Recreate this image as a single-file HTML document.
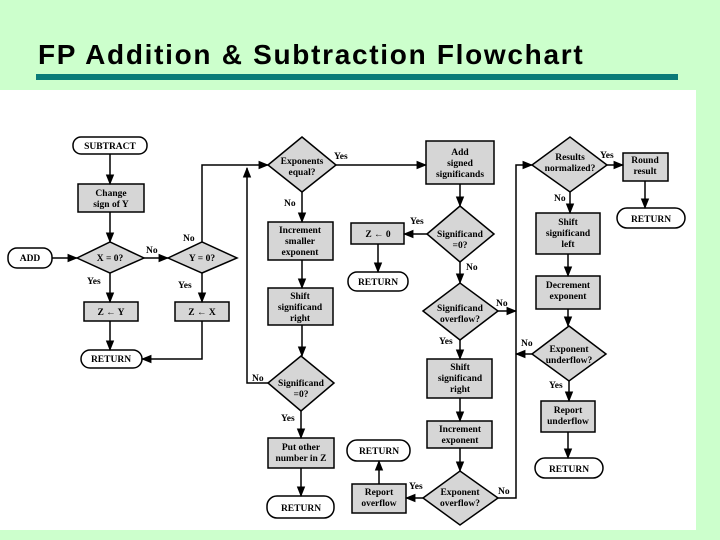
<!DOCTYPE html>
<html><head><meta charset="utf-8"><style>
html,body{margin:0;padding:0;width:720px;height:540px;overflow:hidden;background:#ccffcc}
.t{position:absolute;left:38px;top:39px;font:bold 28px "Liberation Sans",sans-serif;color:#000;letter-spacing:1.7px;white-space:nowrap}
</style></head><body>
<div class="t">FP Addition &amp; Subtraction Flowchart</div>
<div style="position:absolute;left:36px;top:74px;width:642px;height:6px;background:#0a7b78"></div>
<svg style="position:absolute;left:0;top:0" width="720" height="540" xmlns="http://www.w3.org/2000/svg">
<defs><marker id="a" viewBox="0 0 10 10" refX="9" refY="5" markerWidth="7" markerHeight="7" orient="auto"><path d="M0,1 L10,5 L0,9 z" fill="#000"/></marker></defs>
<rect x="0" y="90" width="696" height="440" fill="#fff"/>
<g fill="#d6d6d6" stroke="#000" stroke-width="1.5">
<rect x="78" y="184" width="66" height="28"/>
<rect x="84" y="302" width="54" height="19"/>
<rect x="175" y="302" width="54" height="19"/>
<rect x="268" y="222" width="65" height="38"/>
<rect x="268" y="288" width="65" height="37"/>
<rect x="268" y="438" width="66" height="30"/>
<rect x="426" y="141" width="68" height="43"/>
<rect x="351" y="223" width="53" height="21"/>
<rect x="427" y="359" width="65" height="39"/>
<rect x="427" y="421" width="65" height="27"/>
<rect x="352" y="484" width="54" height="29"/>
<rect x="623" y="153" width="45" height="28"/>
<rect x="536" y="213" width="64" height="41"/>
<rect x="536" y="276" width="64" height="33"/>
<rect x="541" y="401" width="54" height="31"/>
<polygon points="77,258 110,242 144,258 110,273"/>
<polygon points="168,258 202,242 237,258 202,273"/>
<polygon points="268,165 302,137 336,165 302,192"/>
<polygon points="268,383 301,356 334,383 301,411"/>
<polygon points="427,234 460,206 494,234 460,262"/>
<polygon points="423,311 460,283 498,311 460,340"/>
<polygon points="423,498 460,471 498,498 460,525"/>
<polygon points="532,165 570,137 607,165 570,192"/>
<polygon points="532,354 569,326 606,354 569,381"/>
</g>
<g fill="#fff" stroke="#000" stroke-width="1.5">
<rect x="73" y="137" width="74" height="17" rx="8"/>
<rect x="8" y="248" width="44" height="20" rx="9"/>
<rect x="81" y="350" width="61" height="18" rx="9"/>
<rect x="267" y="496" width="67" height="22" rx="10"/>
<rect x="348" y="272" width="60" height="19" rx="9"/>
<rect x="347" y="440" width="63" height="21" rx="10"/>
<rect x="617" y="208" width="68" height="20" rx="10"/>
<rect x="535" y="458" width="68" height="20" rx="10"/>
</g>
<g fill="none" stroke="#000" stroke-width="1.5" marker-end="url(#a)">
<line x1="110" y1="154" x2="110" y2="184"/>
<line x1="110" y1="212" x2="110" y2="242"/>
<line x1="52" y1="258" x2="77" y2="258"/>
<line x1="144" y1="258" x2="168" y2="258"/>
<line x1="110" y1="273" x2="110" y2="302"/>
<line x1="202" y1="273" x2="202" y2="302"/>
<line x1="110" y1="321" x2="110" y2="350"/>
<polyline points="202,321 202,359 142,359"/>
<polyline points="202,242 202,165 268,165"/>
<polyline points="268,383 247,383 247,168"/>
<line x1="302" y1="192" x2="302" y2="222"/>
<line x1="302" y1="260" x2="302" y2="288"/>
<line x1="302" y1="325" x2="302" y2="356"/>
<line x1="301" y1="411" x2="301" y2="438"/>
<line x1="301" y1="468" x2="301" y2="496"/>
<line x1="336" y1="165" x2="426" y2="165"/>
<line x1="460" y1="184" x2="460" y2="206"/>
<line x1="427" y1="234" x2="404" y2="234"/>
<line x1="378" y1="244" x2="378" y2="272"/>
<line x1="460" y1="262" x2="460" y2="283"/>
<line x1="498" y1="311" x2="516" y2="311"/>
<line x1="460" y1="340" x2="460" y2="359"/>
<line x1="460" y1="398" x2="460" y2="421"/>
<line x1="460" y1="448" x2="460" y2="471"/>
<line x1="423" y1="498" x2="406" y2="498"/>
<line x1="379" y1="484" x2="379" y2="461"/>
<polyline points="498,498 516,498 516,165 532,165"/>
<line x1="607" y1="165" x2="623" y2="165"/>
<line x1="645" y1="181" x2="645" y2="208"/>
<line x1="570" y1="192" x2="570" y2="213"/>
<line x1="568" y1="254" x2="568" y2="276"/>
<line x1="568" y1="309" x2="568" y2="326"/>
<line x1="532" y1="354" x2="516" y2="354"/>
<line x1="569" y1="381" x2="569" y2="401"/>
<line x1="568" y1="432" x2="568" y2="458"/>
</g>
<g font-family="Liberation Serif,serif" font-size="9.5" font-weight="bold" text-anchor="middle" fill="#000">
<text x="110" y="149">SUBTRACT</text>
<text x="111" y="196">Change</text><text x="111" y="207">sign of Y</text>
<text x="30" y="261">ADD</text>
<text x="110" y="261">X = 0?</text>
<text x="202" y="261">Y = 0?</text>
<text x="111" y="315">Z ← Y</text>
<text x="202" y="315">Z ← X</text>
<text x="111" y="362">RETURN</text>
<text x="302" y="164">Exponents</text><text x="302" y="175">equal?</text>
<text x="300" y="233">Increment</text><text x="300" y="244">smaller</text><text x="300" y="255">exponent</text>
<text x="300" y="299">Shift</text><text x="300" y="310">significand</text><text x="300" y="321">right</text>
<text x="301" y="386">Significand</text><text x="301" y="397">=0?</text>
<text x="301" y="450">Put other</text><text x="301" y="461">number in Z</text>
<text x="301" y="511">RETURN</text>
<text x="460" y="155">Add</text><text x="460" y="166">signed</text><text x="460" y="177">significands</text>
<text x="378" y="237">Z ←  0</text>
<text x="378" y="285">RETURN</text>
<text x="460" y="237">Significand</text><text x="460" y="248">=0?</text>
<text x="460" y="311">Significand</text><text x="460" y="322">overflow?</text>
<text x="460" y="370">Shift</text><text x="460" y="381">significand</text><text x="460" y="392">right</text>
<text x="460" y="432">Increment</text><text x="460" y="443">exponent</text>
<text x="460" y="495">Exponent</text><text x="460" y="506">overflow?</text>
<text x="379" y="495">Report</text><text x="379" y="506">overflow</text>
<text x="379" y="454">RETURN</text>
<text x="570" y="160">Results</text><text x="570" y="171">normalized?</text>
<text x="645" y="163">Round</text><text x="645" y="174">result</text>
<text x="651" y="222">RETURN</text>
<text x="568" y="225">Shift</text><text x="568" y="236">significand</text><text x="568" y="247">left</text>
<text x="568" y="288">Decrement</text><text x="568" y="299">exponent</text>
<text x="569" y="352">Exponent</text><text x="569" y="363">underflow?</text>
<text x="568" y="413">Report</text><text x="568" y="424">underflow</text>
<text x="569" y="472">RETURN</text>
</g>
<g font-family="Liberation Serif,serif" font-size="9.5" font-weight="bold" fill="#000">
<text x="146" y="253">No</text><text x="183" y="241">No</text>
<text x="87" y="284">Yes</text><text x="178" y="288">Yes</text>
<text x="334" y="159">Yes</text><text x="284" y="206">No</text>
<text x="252" y="381">No</text><text x="281" y="421">Yes</text>
<text x="410" y="224">Yes</text><text x="466" y="270">No</text>
<text x="496" y="306">No</text><text x="439" y="344">Yes</text>
<text x="409" y="489">Yes</text><text x="498" y="494">No</text>
<text x="600" y="158">Yes</text><text x="554" y="201">No</text>
<text x="521" y="346">No</text><text x="549" y="388">Yes</text>
</g>
</svg>
</body></html>
